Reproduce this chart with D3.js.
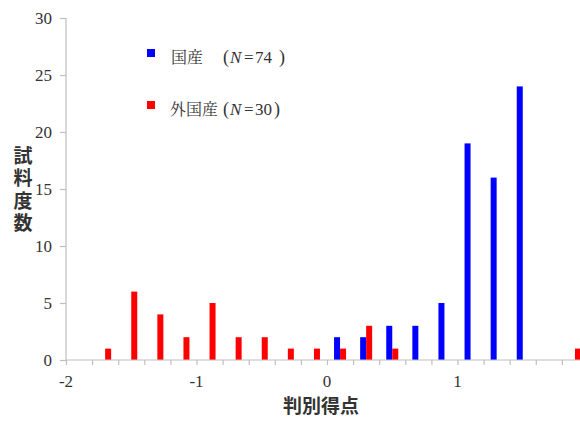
<!DOCTYPE html>
<html><head><meta charset="utf-8">
<script src="https://cdn.jsdelivr.net/npm/d3@7"></script>
<style>body{margin:0;background:#fff}svg{display:block}</style>
</head><body>
<script>
const binCenters = [-1.9,-1.7,-1.5,-1.3,-1.1,-0.9,-0.7,-0.5,-0.3,-0.1,0.1,0.3,0.5,0.7,0.9,1.1,1.3,1.5,1.7,1.9];
const domestic   = [0,0,0,0,0,0,0,0,0,0,2,2,3,3,5,19,16,24,0,0];
const foreign    = [0,1,6,4,2,5,2,2,1,1,1,3,1,0,0,0,0,0,0,1];
const seriesNames = ["国産","外国産"];
const seriesN = [74,30];
const yTicks = [0,5,10,15,20,25,30];
const xTickLabels = [-2,-1,0,1];

const W=580,H=421;
const SERIF='"Liberation Serif"', CJK='"Noto Sans CJK JP"', MINCHO='"Noto Serif CJK JP"';
const svg=d3.select("body").append("svg").attr("width",W).attr("height",H);
const x=d3.scaleLinear().domain([-2,2]).range([66,588]);
const y=d3.scaleLinear().domain([0,30]).range([360,18]);
const sub=d3.scaleBand().domain(seriesNames).range([-6,6]);
const colors={"国産":"#0000ff","外国産":"#ff0000"};
const axisColor="#bfbfbf", textColor="#333";

// bars
const data=[];
binCenters.forEach((c,i)=>{
  if(domestic[i]>0) data.push({c,s:"国産",v:domestic[i]});
  if(foreign[i]>0) data.push({c,s:"外国産",v:foreign[i]});
});
svg.append("g").selectAll("rect").data(data).join("rect")
  .attr("x",d=>x(d.c)+sub(d.s)).attr("width",sub.bandwidth())
  .attr("y",d=>y(d.v)).attr("height",d=>y(0)-y(d.v))
  .attr("fill",d=>colors[d.s]);

// axes (lines and ticks from d3 axes)
const ya=svg.append("g").attr("transform",`translate(${x(-2)},0)`)
  .call(d3.axisLeft(y).tickValues(yTicks).tickSize(6).tickFormat(""));
const xTickVals=d3.range(-2,2.01,0.2).map(v=>+v.toFixed(1));
const xa=svg.append("g").attr("transform",`translate(0,${y(0)})`)
  .call(d3.axisBottom(x).tickValues(xTickVals).tickSize(5).tickFormat(""));
[ya,xa].forEach(g=>{
  g.selectAll("path,line").attr("stroke",axisColor).attr("stroke-width",1.2);
  g.selectAll(".tick text").remove();
});
ya.select(".domain").attr("d",`M0,${y(0)}V${y(30)}`);
xa.select(".domain").attr("d",`M${x(-2)},0H${W}`);

// tick labels, positioned with the same scales
svg.append("g").selectAll("text").data(yTicks).join("text")
  .attr("x",x(-2)-14).attr("y",d=>y(d)).attr("dy","0.34em").attr("text-anchor","end")
  .style("font-family",SERIF).style("font-size","17px").attr("fill",textColor).text(d=>d);
svg.append("g").selectAll("text").data(xTickLabels).join("text")
  .attr("x",d=>x(d)).attr("y",y(0)+27).attr("text-anchor","middle")
  .style("font-family",SERIF).style("font-size","17px").attr("fill",textColor).text(d=>String(d));

// axis titles
svg.append("text").attr("x",321).attr("y",413).attr("text-anchor","middle")
  .style("font-family",CJK).style("font-weight","bold").style("font-size","19px")
  .attr("fill",textColor).text("判別得点");
svg.append("text").attr("x",23).attr("y",146).attr("text-anchor","start")
  .style("writing-mode","vertical-rl").style("letter-spacing","3.5px")
  .style("font-family",CJK).style("font-weight","bold").style("font-size","19px")
  .attr("fill",textColor).text("試料度数");

// legend
const legend=[{s:"国産",tx:171,cx:279,yy:57},
              {s:"外国産",tx:170,cx:274,yy:109}];
legend.forEach((l,i)=>{
  svg.append("rect").attr("x",147).attr("y",l.yy-8).attr("width",8).attr("height",8).attr("fill",colors[l.s]);
  const t=svg.append("text").attr("x",l.tx).attr("y",l.yy+6)
    .style("font-family",SERIF).style("font-size","17px").attr("fill",textColor);
  t.append("tspan").style("font-family",MINCHO).style("font-size","16px").text(seriesNames[i]);
  t.append("tspan").attr("x",223).style("font-size","18px").text("(");
  t.append("tspan").attr("x",230).style("font-style","italic").text("N");
  t.append("tspan").attr("x",244).text("=");
  t.append("tspan").attr("x",255).text(String(seriesN[i]));
  t.append("tspan").attr("x",l.cx).style("font-size","18px").text(")");
});
</script>
</body></html>
